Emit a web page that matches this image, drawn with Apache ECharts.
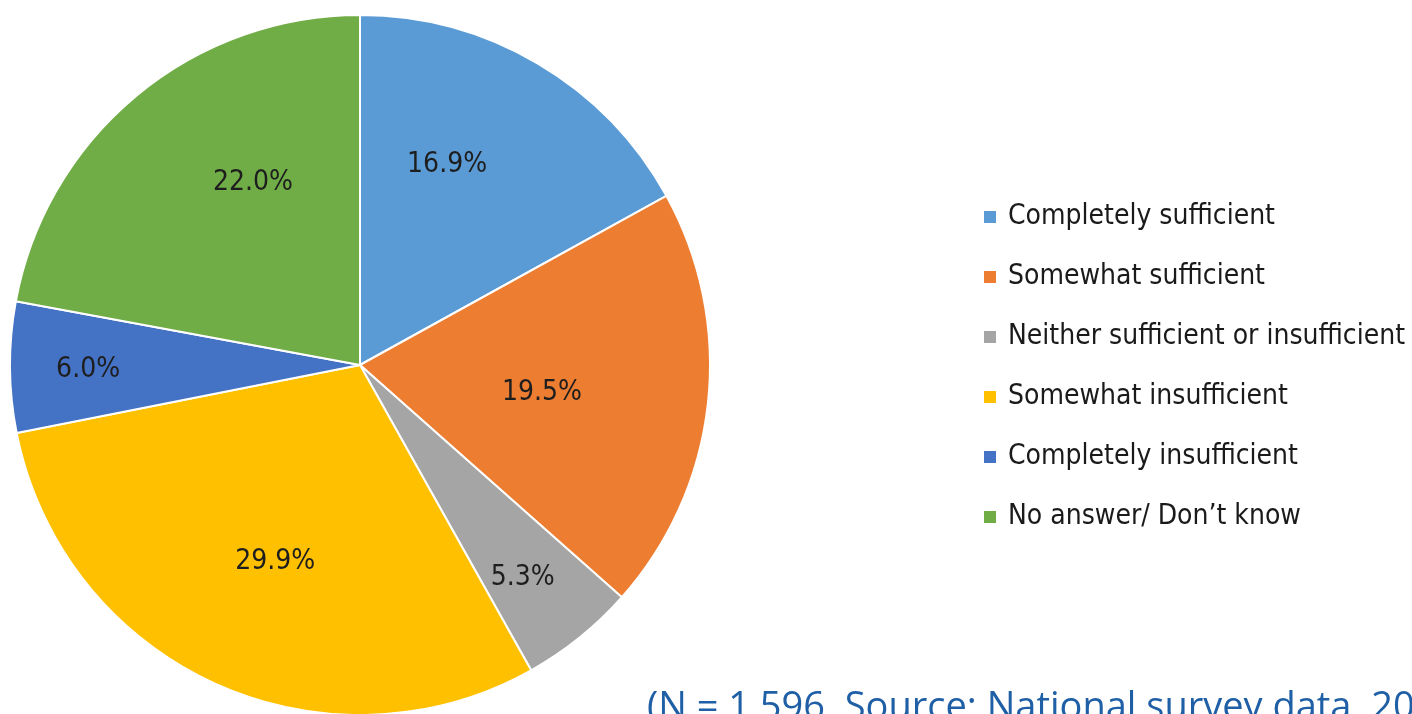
<!DOCTYPE html>
<html>
<head>
<meta charset="utf-8">
<script src="https://cdn.jsdelivr.net/npm/echarts@6/dist/echarts.min.js"></script>
<style>html,body{margin:0;padding:0;background:#fff;}#chart{width:1412px;height:714px;}</style>
</head>
<body>
<div id="chart"></div>
<script>
var categories = ['Completely sufficient', 'Somewhat sufficient', 'Neither sufficient or insufficient', 'Somewhat insufficient', 'Completely insufficient', 'No answer/ Don\u2019t know'];
var values = [16.9, 19.5, 5.3, 29.9, 6.0, 22.0];
var colors = ['#5B9BD5', '#ED7D31', '#A5A5A5', '#FFC000', '#4472C4', '#70AD47'];
var sourceNote = '(N = 1,596, Source: National survey data, 2019)';

// label placement (style only): radius fraction and angular nudge (deg) from slice mid-angle
var labelRadiusFrac = [0.623, 0.526, 0.766, 0.613, 0.777, 0.603];
var labelAngleNudge = [-7.0, 2.4, 1.5, -1.5, -0.7, 9.3];
var CX = 360, CY = 365, R = 350;
var FONT = '"Liberation Sans Narrow", "DejaVu Sans Condensed", "Noto Sans", sans-serif';

var total = values.reduce(function (a, b) { return a + b; }, 0);
var cum = [];
var acc = 0;
values.forEach(function (v) { cum.push(acc + v / 2); acc += v; });

var chart = echarts.init(document.getElementById('chart'), null, { renderer: 'canvas' });
chart.setOption({
  animation: false,
  color: colors,
  legend: {
    orient: 'vertical',
    left: 982,
    top: 202,
    padding: 0,
    itemWidth: 14,
    itemHeight: 14,
    itemGap: 30,
    icon: 'rect',
    textStyle: { fontFamily: FONT, fontSize: 28, color: '#1a1a1a', lineHeight: 30, padding: [0, 0, 0, 6] },
    data: categories
  },
  series: [{
    type: 'pie',
    center: [CX, CY],
    radius: [0, R],
    startAngle: 90,
    clockwise: true,
    avoidLabelOverlap: false,
    itemStyle: { borderColor: '#ffffff', borderWidth: 2 },
    label: {
      show: true,
      position: 'inside',
      formatter: function (p) { return p.value.toFixed(1) + '%'; },
      fontFamily: FONT,
      fontSize: 28,
      color: '#1e1e1e'
    },
    labelLine: { show: false },
    labelLayout: function (params) {
      var i = params.dataIndex;
      var ang = (cum[i] / total) * 2 * Math.PI + labelAngleNudge[i] * Math.PI / 180;
      var d = labelRadiusFrac[i] * R;
      return { x: CX + d * Math.sin(ang), y: CY - d * Math.cos(ang), align: 'center', verticalAlign: 'middle' };
    },
    emphasis: { disabled: true },
    data: categories.map(function (c, i) { return { name: c, value: values[i] }; })
  }],
  graphic: [{
    type: 'text',
    left: 647,
    top: 689,
    style: { text: sourceNote, fontFamily: '"Open Sans", "Noto Sans", sans-serif', fontSize: 38, fill: '#1F5FA6' }
  }]
});
</script>
</body>
</html>
